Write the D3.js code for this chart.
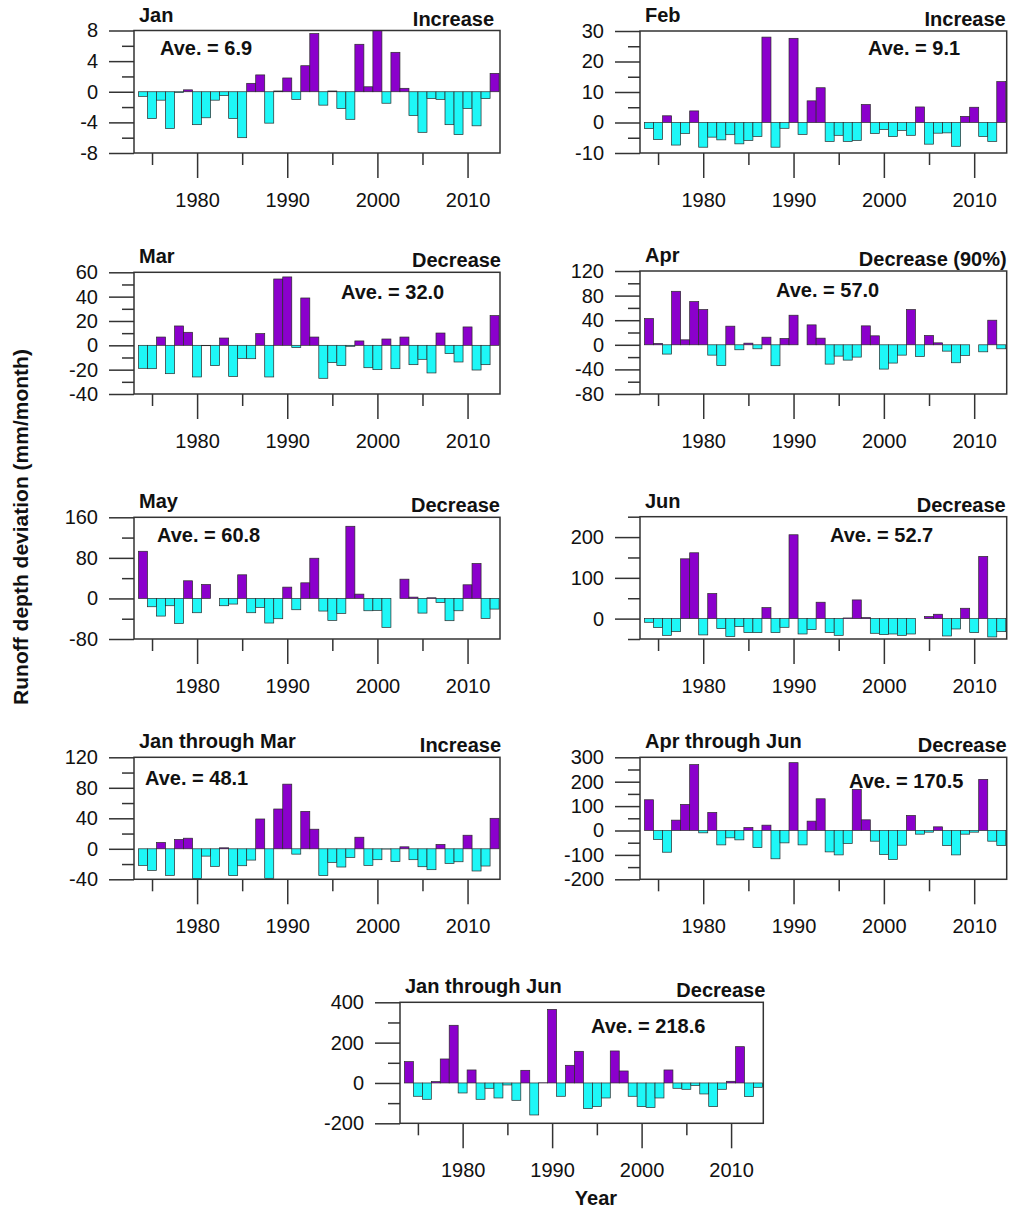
<!DOCTYPE html>
<html>
<head>
<meta charset="utf-8">
<script src="https://cdn.jsdelivr.net/npm/d3@7"></script>
<style>
  body { margin: 0; background: #fff; }
  svg text { font-family: "Liberation Sans", Arial, sans-serif; fill: #111; }
  .bar { stroke: #2a2a2a; stroke-width: 0.7; }
  .bar.pos { fill: #8b00cc; }
  .bar.neg { fill: #1ef7f7; }
  .frame { fill: none; stroke: #333; stroke-width: 1.5; }
  .axis path { display: none; }
  .axis line { stroke: #333; stroke-width: 1.5; }
  .axis text { font-size: 20px; }
  .bold { font-weight: bold; font-size: 20px; }
  .ylabel { font-size: 21px; }
</style>
</head>
<body>
<div id="chart"></div>
<script>
// years on the x axis
const years = [1974, 1975, 1976, 1977, 1978, 1979, 1980, 1981, 1982, 1983,
  1984, 1985, 1986, 1987, 1988, 1989, 1990, 1991, 1992, 1993,
  1994, 1995, 1996, 1997, 1998, 1999, 2000, 2001, 2002, 2003,
  2004, 2005, 2006, 2007, 2008, 2009, 2010, 2011, 2012, 2013];

// runoff depth deviation (mm/month)
const janDev = [-0.6, -3.5, -1.1, -4.8, -0.1, 0.25, -4.3, -3.4, -1.1, -0.5,
  -3.5, -6.0, 1.1, 2.2, -4.1, 0.1, 1.8, -1.0, 3.4, 7.6,
  -1.75, 0.1, -2.2, -3.6, 6.2, 0.65, 8.0, -1.5, 5.15, 0.45,
  -3.1, -5.3, -0.9, -1.0, -4.3, -5.6, -2.2, -4.45, -0.9, 2.4];
const febDev = [-2.0, -5.6, 2.2, -7.4, -3.6, 3.8, -8.1, -4.8, -5.7, -4.0,
  -7.0, -5.9, -4.6, 28.0, -8.1, -1.9, 27.6, -3.9, 7.1, 11.4,
  -6.2, -4.2, -6.2, -5.9, 5.9, -3.6, -2.3, -4.6, -2.6, -4.2,
  5.1, -7.1, -3.5, -3.4, -7.8, 2.0, 5.0, -4.6, -6.2, 13.4];
const marDev = [-18.9, -19.2, 6.8, -23.3, 15.9, 10.7, -26.0, -0.3, -16.7, 6.0,
  -25.5, -10.7, -11.0, 9.6, -26.0, 54.5, 56.2, -1.9, 38.9, 6.8,
  -27.1, -14.2, -16.7, -0.8, 3.6, -18.4, -20.0, 5.2, -19.2, 6.8,
  -15.9, -11.5, -22.7, 10.1, -6.8, -13.7, 15.1, -20.3, -15.9, 24.4];
const aprDev = [42.7, 2.2, -15.1, 87, 8.1, 70.3, 57.3, -16.8, -33.5, 30.3,
  -8.1, 2.7, -6.5, 12.4, -34, 10.3, 48.1, 0, 32.4, 10.8,
  -31.4, -18.4, -24.9, -20, 30.8, 14.6, -39.5, -29.7, -16.8, 57.3,
  -18.9, 15.1, 3.2, -10.3, -29.2, -17.3, 0, -11.4, 40, -6.5];
const mayDev = [93, -16.4, -34.8, -14.4, -49.2, 34.8, -28.2, 27.5, 0, -14.4,
  -11.1, 46.6, -28.2, -17.7, -48.5, -40, 22.3, -22.3, 30.8, 79.3,
  -24.9, -43.3, -29.5, 142.3, 8.5, -24.3, -23.6, -57, 0, 38,
  2.6, -28.9, 1.3, -7.9, -43.9, -24.3, 26.9, 68.9, -39.3, -21];
const junDev = [-9, -22, -41, -32, 146.7, 161.5, -40, 61.5, -24.6, -44,
  -19.7, -34.4, -34.4, 27, -34.4, -21.3, 205.7, -37.7, -27, 40.2,
  -34.4, -41, 1.6, 45.9, 2.5, -36, -39.3, -37.7, -41, -37.7,
  0, 4.9, 10.7, -42.6, -25.4, 25.4, -34.4, 152.5, -45, -32];
const janMarDev = [-21.7, -28.3, 8.3, -34.8, 12.2, 13.9, -39, -9.6, -23, 1.3,
  -35.2, -22.2, -14.8, 39.1, -38.7, 52.2, 84.8, -7, 49.1, 25.7,
  -35.2, -17.8, -23.9, -11.3, 15.2, -21.7, -14.3, -0.4, -16.5, 2.6,
  -14.3, -23.5, -27.4, 5.7, -19.1, -17, 17.8, -29.1, -22.6, 40];
const aprJunDev = [126, -37, -89, 42.5, 107, 270, -9.6, 74, -59, -30,
  -38.4, 12.3, -70, 21.9, -116, -50.7, 278, -59, 38.4, 130,
  -87.7, -100, -53.4, 168.5, 43.8, -43.8, -98.6, -119, -60.3, 61.6,
  -15, -6.8, 15, -61.6, -100, -15, -6.8, 209.6, -43.8, -61.6];
const janJunDev = [105.8, -66, -81, 6.6, 119, 286, -49.6, 64.5, -81, -26.4,
  -74.4, -10, -86, 62.8, -158.7, 1, 365, -66, 87.6, 157,
  -127, -117, -74.4, 158.7, 59.5, -66, -117, -122, -74.4, 64.5,
  -26.4, -31.4, -13.2, -54.5, -117, -31.4, 8.3, 180, -67.8, -21.5];

const panelTitles = ["Jan", "Feb", "Mar", "Apr", "May", "Jun",
  "Jan through Mar", "Apr through Jun", "Jan through Jun"];
const trendLabels = ["Increase", "Increase", "Decrease", "Decrease (90%)", "Decrease",
  "Decrease", "Increase", "Decrease", "Decrease"];
const aveLabels = ["Ave. = 6.9", "Ave. = 9.1", "Ave. = 32.0", "Ave. = 57.0", "Ave. = 60.8",
  "Ave. = 52.7", "Ave. = 48.1", "Ave. = 170.5", "Ave. = 218.6"];

const yDomains = [[-8, 8], [-10, 30], [-40, 60], [-80, 120], [-80, 160],
  [-50, 250], [-40, 120], [-200, 300], [-200, 400]];
const yMajorTicks = [[-8, -4, 0, 4, 8], [-10, 0, 10, 20, 30], [-40, -20, 0, 20, 40, 60],
  [-80, -40, 0, 40, 80, 120], [-80, 0, 80, 160], [0, 100, 200],
  [-40, 0, 40, 80, 120], [-200, -100, 0, 100, 200, 300], [-200, 0, 200, 400]];
const yMinorTicks = [[-6, -2, 2, 6], [-5, 5, 15, 25], [-30, -10, 10, 30, 50],
  [-60, -20, 20, 60, 100], [-40, 40, 120], [-50, 50, 150, 250],
  [-20, 20, 60, 100], [-150, -50, 50, 150, 250], [-100, 100, 300]];
const xMajorTicks = [1980, 1990, 2000, 2010];
const xMinorTicks = [1975, 1985, 1995, 2005];

// frame of each panel in page pixels, and where its "Ave." note sits
const layout = [
  { x: 134, y: 30.5, w: 366, h: 122.5, ax: 26, ay: 24.5, tx: -6 },
  { x: 640, y: 31, w: 366.7, h: 122, ax: 228, ay: 24, tx: -1 },
  { x: 134, y: 272.3, w: 366, h: 121.7, ax: 207, ay: 27, tx: 1 },
  { x: 640, y: 271, w: 366.7, h: 123, ax: 136, ay: 25.7, tx: 0 },
  { x: 134, y: 517.3, w: 366, h: 121.7, ax: 23, ay: 25, tx: 0 },
  { x: 640, y: 516.7, w: 366.7, h: 122.3, ax: 190, ay: 25.6, tx: -1 },
  { x: 134, y: 757.3, w: 366, h: 122, ax: 11, ay: 27.7, tx: 1 },
  { x: 640, y: 757.3, w: 366.7, h: 122, ax: 209, ay: 31, tx: 0 },
  { x: 400, y: 1002.3, w: 363.3, h: 121, ax: 191, ay: 31, tx: 2 },
];

const series = [janDev, febDev, marDev, aprDev, mayDev, junDev, janMarDev, aprJunDev, janJunDev];

class DeviationPanel {
  constructor(_svg, _frame, _values, _title, _trend, _ave, _yDomain, _yMajor, _yMinor) {
    this.svg = _svg;
    this.frame = _frame;
    this.values = _values;
    this.title = _title;
    this.trend = _trend;
    this.ave = _ave;
    this.yDomain = _yDomain;
    this.yMajor = _yMajor;
    this.yMinor = _yMinor;
    this.initVis();
  }

  initVis() {
    let vis = this;
    const f = vis.frame;

    vis.g = vis.svg.append("g").attr("transform", `translate(${f.x},${f.y})`);

    vis.x = d3.scaleLinear().domain([1973, 2013.6]).range([0, f.w]);
    vis.y = d3.scaleLinear().domain(vis.yDomain).range([f.h, 0]);

    vis.displayData = years.map((yr, i) => ({ year: yr, value: vis.values[i] }));

    vis.g.selectAll("rect.bar")
      .data(vis.displayData)
      .join("rect")
      .attr("class", (d) => "bar " + (d.value >= 0 ? "pos" : "neg"))
      .attr("x", (d) => vis.x(d.year - 0.5))
      .attr("width", (d) => vis.x(d.year + 0.5) - vis.x(d.year - 0.5))
      .attr("y", (d) => vis.y(Math.max(0, d.value)))
      .attr("height", (d) => Math.abs(vis.y(d.value) - vis.y(0)));

    // y axis: long labelled ticks plus short minor ones
    vis.g.append("g")
      .attr("class", "axis")
      .call(d3.axisLeft(vis.y).tickValues(vis.yMajor).tickSize(25).tickPadding(11)
        .tickFormat((d) => String(d)));
    vis.g.append("g")
      .attr("class", "axis")
      .call(d3.axisLeft(vis.y).tickValues(vis.yMinor).tickSize(12).tickFormat(""));

    // x axis
    vis.g.append("g")
      .attr("class", "axis")
      .attr("transform", `translate(0,${f.h})`)
      .call(d3.axisBottom(vis.x).tickValues(xMajorTicks).tickSize(25).tickPadding(15)
        .tickFormat((d) => String(d)));
    vis.g.append("g")
      .attr("class", "axis")
      .attr("transform", `translate(0,${f.h})`)
      .call(d3.axisBottom(vis.x).tickValues(xMinorTicks).tickSize(12).tickFormat(""));

    vis.g.append("rect")
      .attr("class", "frame")
      .attr("width", f.w)
      .attr("height", f.h);

    vis.g.append("text")
      .attr("class", "bold")
      .attr("x", 5)
      .attr("y", -9)
      .text(vis.title);

    vis.g.append("text")
      .attr("class", "bold")
      .attr("x", f.w + f.tx)
      .attr("y", -5)
      .attr("text-anchor", "end")
      .text(vis.trend);

    vis.g.append("text")
      .attr("class", "bold")
      .attr("x", f.ax)
      .attr("y", f.ay)
      .text(vis.ave);
  }
}

const svg = d3.select("#chart")
  .append("svg")
  .attr("width", 1014)
  .attr("height", 1212);

series.forEach((vals, i) => {
  new DeviationPanel(svg, layout[i], vals, panelTitles[i], trendLabels[i], aveLabels[i],
    yDomains[i], yMajorTicks[i], yMinorTicks[i]);
});

svg.append("text")
  .attr("class", "bold ylabel")
  .attr("transform", "translate(28,527) rotate(-90)")
  .attr("text-anchor", "middle")
  .text("Runoff depth deviation (mm/month)");

svg.append("text")
  .attr("class", "bold")
  .attr("x", 596)
  .attr("y", 1205)
  .attr("text-anchor", "middle")
  .text("Year");
</script>
</body>
</html>
